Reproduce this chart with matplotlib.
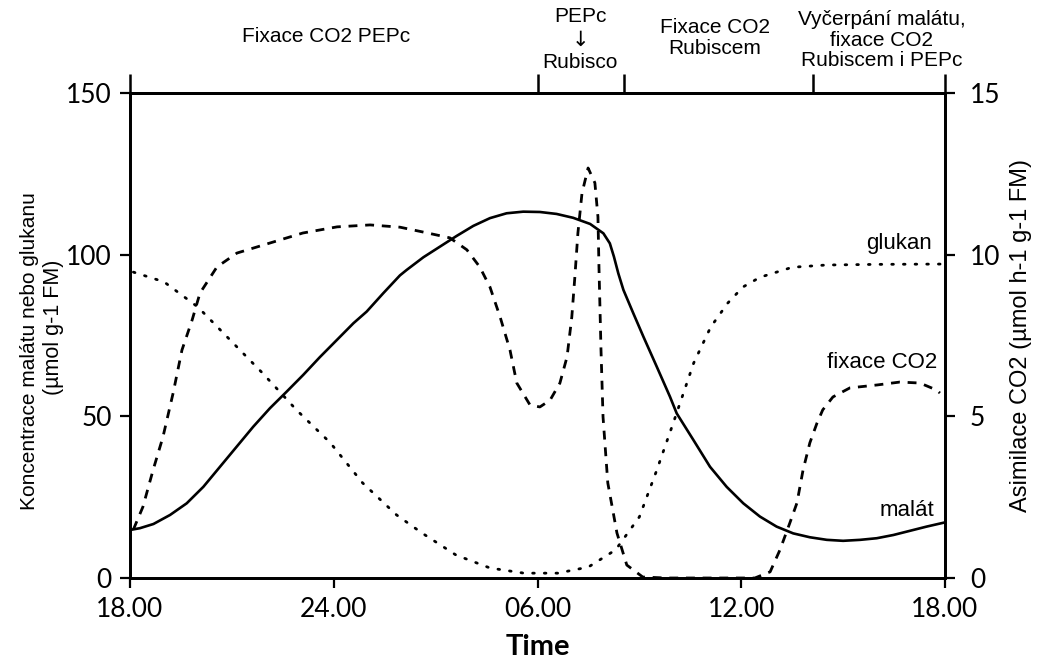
import matplotlib
matplotlib.use("Agg")
import matplotlib.pyplot as plt

# čas v hodinách od 18.00 (0) do 18.00 následujícího dne (24)
malat_t = [0, 0.29, 0.69, 1.18, 1.67, 2.16, 2.65, 3.14, 3.63, 4.12, 4.61, 5.10,
           5.59, 6.09, 6.58, 6.97, 7.46, 7.95, 8.15, 8.64, 9.13, 9.62, 10.11,
           10.6, 11.09, 11.58, 12.07, 12.56, 13.05, 13.55, 13.94, 14.13, 14.25,
           14.38, 14.53, 14.82, 15.12, 15.51, 15.9, 16.1, 16.59, 17.08, 17.57,
           18.06, 18.55, 19.04, 19.53, 20.02, 20.52, 21.0, 21.5, 21.99, 22.48,
           22.97, 23.46, 24.0]
malat = [14.85, 15.4, 16.7, 19.5, 23.1, 28.2, 34.4, 40.6, 46.8, 52.5, 57.6, 62.8,
         68.3, 73.6, 78.8, 82.4, 88.1, 93.6, 95.3, 99.2, 102.5, 105.8, 108.9,
         111.3, 112.8, 113.3, 113.2, 112.6, 111.4, 109.5, 106.6, 103.5, 99.4,
         94.2, 89.1, 81.9, 74.6, 65.4, 56.1, 50.9, 42.7, 34.4, 28.2,
         23.1, 19.0, 15.9, 13.8, 12.6, 11.8, 11.5, 11.8, 12.3, 13.3,
         14.6, 15.9, 17.2]

glukan_t = [0.1, 1.0, 2.0, 2.95, 3.9, 4.9, 5.9, 6.85, 7.85, 8.6, 9.6, 10.6,
            11.6, 12.6, 13.5, 14.3, 15.0, 15.5, 16.0, 16.6, 17.1, 17.6, 18.05,
            18.55, 19.5, 20.5, 22.0, 24.0]
glukan = [94.6, 91.6, 83.8, 73.6, 63.4, 52, 41.8, 29.4, 19.5, 13.9, 7.1, 3.1,
          1.5, 1.5, 3.4, 8.7, 18.9, 33, 48, 66.5, 77.6, 85, 90,
          93, 96.1, 96.8, 97.0, 97.1]

fixace_t = [0.1, 0.38, 0.68, 0.97, 1.27, 1.53, 1.83, 2.06, 2.56, 3.15, 4.12,
            5.09, 6.1, 7.07, 7.95, 8.63, 9.42, 9.92, 10.3, 10.6, 10.9, 11.19,
            11.39, 11.78, 12.07, 12.37, 12.66, 12.87, 13.01, 13.1, 13.19, 13.31,
            13.49, 13.69, 13.78, 13.81, 13.87, 13.93, 14.07, 14.34, 14.63, 15.1,
            15.8, 18.4, 18.85, 19.14, 19.43, 19.64, 19.82, 20.02, 20.23, 20.4,
            20.7, 21.2, 22.0, 22.67, 23.26, 23.76, 23.85]
fixace = [1.5, 2.2, 3.34, 4.36, 5.72, 7.05, 7.98, 8.81, 9.62, 10.05, 10.36,
          10.67, 10.86, 10.92, 10.85, 10.7, 10.52, 10.15, 9.62, 9.0, 8.07, 7.05,
          6.03, 5.35, 5.29, 5.5, 6.03, 6.84, 8.07, 9.31, 10.67, 11.9,
          12.68, 12.22, 11.17, 9.62, 7.05, 4.98, 2.94, 1.39, 0.4, 0.03,
          0, 0, 0.19, 0.87, 1.7, 2.32, 3.34, 4.18, 4.79, 5.2,
          5.6, 5.88, 5.97, 6.06, 6.03, 5.81, 5.72]

x_ticks = [0, 6, 12, 18, 24]
x_labels = ["18.00", "24.00", "06.00", "12.00", "18.00"]
faze_hranice = [0, 12, 14.55, 20.1, 24]

plt.rcParams["font.family"] = ["Liberation Sans", "DejaVu Sans"]
tick_font = ["Lato", "DejaVu Sans"]

W, H = 1037, 667
fig = plt.figure(figsize=(W / 100, H / 100), dpi=100)
ax = fig.add_axes([130 / W, 1 - 578 / H, 815 / W, 485 / H])

ax.plot(malat_t, malat, color="black", lw=1.9, solid_capstyle="round",
        solid_joinstyle="round")
ax.plot(glukan_t, glukan, color="black", lw=2.0,
        linestyle=(0, (0.6, 3.6)), dash_capstyle="round")

ax.set_xlim(0, 24)
ax.set_ylim(0, 150)
ax.set_xticks(x_ticks)
ax.set_xticklabels(x_labels)
ax.set_yticks([0, 50, 100, 150])
for s in ax.spines.values():
    s.set_linewidth(2.0)
ax.tick_params(axis="y", direction="out", length=7, width=1.6, pad=6, labelsize=19)
ax.tick_params(axis="x", direction="out", length=7, width=1.6, pad=7, labelsize=19)
for lab in ax.get_xticklabels() + ax.get_yticklabels():
    lab.set_family(tick_font)
ax.set_xlabel("Time", fontsize=21, fontweight="bold", family=tick_font, labelpad=8)

axr = ax.twinx()
axr.plot(fixace_t, fixace, color="black", lw=2.0, linestyle=(0, (3.2, 2.8)))
axr.set_ylim(0, 15)
axr.set_yticks([0, 5, 10, 15])
for s in axr.spines.values():
    s.set_linewidth(2.0)
axr.tick_params(axis="y", direction="out", length=7, width=1.6, pad=11, labelsize=19)
for lab in axr.get_yticklabels():
    lab.set_family(tick_font)

top = ax.secondary_xaxis("top")
top.set_xticks(faze_hranice)
top.set_xticklabels([])
top.tick_params(direction="out", length=14, width=1.8)
top.spines["top"].set_linewidth(1.8)

# popisky křivek
ax.text(23.62, 103.6, "glukan", ha="right", va="center", fontsize=16)
ax.text(23.76, 66.8, "fixace CO2", ha="right", va="center", fontsize=16)
ax.text(23.7, 21, "malát", ha="right", va="center", fontsize=16)

# fáze CAM nad grafem
fig.text(326 / W, 1 - 37 / H, "Fixace CO2 PEPc", ha="center", va="center", fontsize=15)
fig.text(580 / W, 1 - 17 / H, "PEPc", ha="center", va="center", fontsize=15)
fig.text(580 / W, 1 - 40 / H, "↓", ha="center", va="center", fontsize=15,
         family=["DejaVu Sans"])
fig.text(580 / W, 1 - 62 / H, "Rubisco", ha="center", va="center", fontsize=15)
fig.text(715 / W, 1 - 38 / H, "Fixace CO2\nRubiscem", ha="center", va="center",
         fontsize=15, linespacing=1.15)
fig.text(882 / W, 1 - 40 / H, "Vyčerpání malátu,\nfixace CO2\nRubiscem i PEPc",
         ha="center", va="center", fontsize=15, linespacing=1.1)

fig.text(30 / W, 1 - 351 / H, "Koncentrace malátu nebo glukanu",
         ha="center", va="center", rotation=90, fontsize=15)
fig.text(54 / W, 1 - 327 / H, "(µmol g-1 FM)",
         ha="center", va="center", rotation=90, fontsize=15.5)
fig.text(1021 / W, 1 - 336 / H, "Asimilace CO2 (µmol h-1 g-1 FM)",
         ha="center", va="center", rotation=90, fontsize=17)

fig.savefig("out.png", dpi=100)
